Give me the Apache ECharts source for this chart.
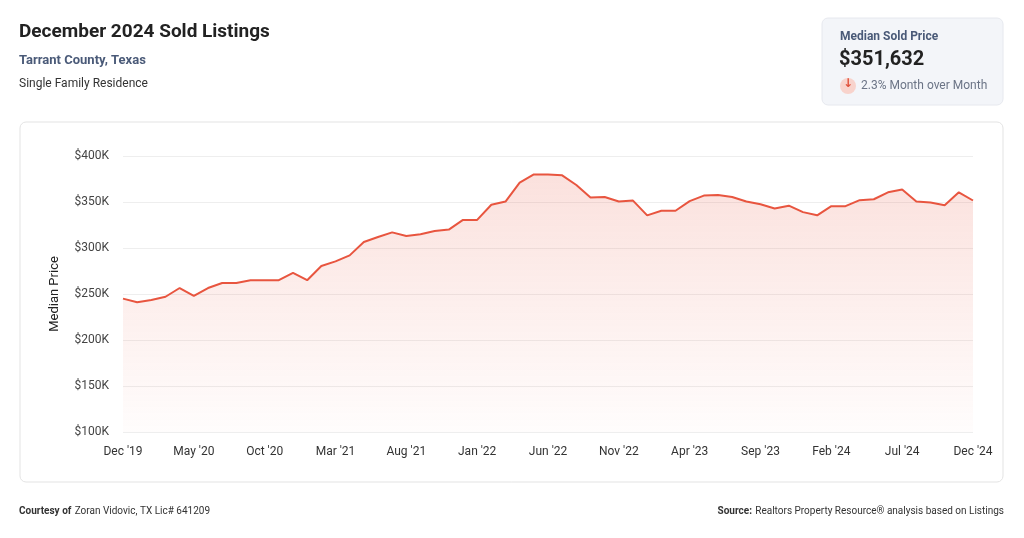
<!DOCTYPE html>
<html><head><meta charset="utf-8">
<script src="https://cdn.jsdelivr.net/npm/echarts@6/dist/echarts.min.js"></script>
<style>html,body{margin:0;padding:0;background:#fff}#c{width:1024px;height:538px}</style>
</head><body><div id="c"></div>
<script>
const months = ['Jan','Feb','Mar','Apr','May','Jun','Jul','Aug','Sep','Oct','Nov','Dec'];
const categories = ["Dec '19"];
for (let y = 20; y <= 24; y++) for (const m of months) categories.push(m + " '" + y);
const medianPrice = [245,241,243.5,247,256.5,248,256.5,262,262,265,265,265,273,265,280.5,285.5,292,306.5,312,317,313,315,318.5,320,330.5,330.5,347,350.5,371,380,380,379,368.5,355,355.5,350.5,351.5,335.5,340.5,340.5,351,357,357.5,355.5,350.5,347.5,343,346,339,335.5,345.5,345.5,352,353,360.5,363.5,350.5,349.5,346.5,360.5,351.632].map(v => Math.round(v * 1000));
const yTicks = [100000,150000,200000,250000,300000,350000,400000];

const chart = echarts.init(document.getElementById('c'));
const ff = 'Roboto';
chart.setOption({
  animation:false,
  textStyle:{fontFamily:ff},
  graphic:[
    {type:'text',left:19,top:23,style:{text:'December 2024 Sold Listings',font:'bold 19px Roboto',fill:'#222'}},
    {type:'text',left:19,top:54,style:{text:'Tarrant County, Texas',font:'bold 13px Roboto',fill:'#4a5a78'}},
    {type:'text',left:19,top:78,style:{text:'Single Family Residence',font:'12px Roboto',fill:'#333'}},
    {type:'rect',shape:{x:822,y:18,width:181,height:87,r:6},style:{fill:'#f3f5f9',stroke:'#e6e8ee'}},
    {type:'text',left:840,top:31,style:{text:'Median Sold Price',font:'bold 12px Roboto',fill:'#4a5a78'}},
    {type:'text',left:839,top:50,style:{text:'$351,632',font:'bold 20px Roboto',fill:'#222'}},
    {type:'circle',shape:{cx:848,cy:86,r:8},style:{fill:'#f8d3cc'}},
    {type:'text',left:843,top:78,style:{text:'↓',font:'bold 12px DejaVu Sans',fill:'#e0533d'}},
    {type:'text',left:861,top:80,style:{text:'2.3% Month over Month',font:'12px Roboto',fill:'#6b7486'}},
    {type:'rect',shape:{x:20,y:122,width:983,height:360,r:6},style:{fill:'none',stroke:'#e3e3e3'}},
    {type:'text',left:19,top:505,style:{rich:{b:{font:'bold 10px Roboto',fill:'#333'},n:{font:'10px Roboto',fill:'#333'}},text:'{b|Courtesy of} {n|Zoran Vidovic, TX Lic# 641209}'}},
    {type:'text',right:20,top:505,style:{rich:{b:{font:'bold 10px Roboto',fill:'#333'},n:{font:'10px Roboto',fill:'#333'}},text:'{b|Source:} {n|Realtors Property Resource® analysis based on Listings}'}}
  ],
  grid:{left:123,right:51,top:156,bottom:106},
  xAxis:{type:'category',data:categories,boundaryGap:false,
    axisLine:{show:false},axisTick:{show:false},
    axisLabel:{interval:4,color:'#333',fontSize:12,margin:14}},
  yAxis:{type:'value',min:100000,max:400000,interval:50000,
    name:'Median Price',nameLocation:'middle',nameGap:62,nameRotate:90,
    nameTextStyle:{color:'#222',fontSize:13},
    axisLabel:{color:'#444',fontSize:12,margin:14,formatter:v=>yTicks.includes(v)?'$'+(v/1000)+'K':''},
    splitLine:{lineStyle:{color:'#eeeeee'}}},
  series:[{type:'line',data:medianPrice,symbol:'none',
    lineStyle:{color:'#e8553f',width:2},
    areaStyle:{color:new echarts.graphic.LinearGradient(0,0,0,1,[{offset:0,color:'rgba(232,85,63,0.25)'},{offset:1,color:'rgba(232,85,63,0.02)'}]),origin:'start'}}]
});
</script></body></html>
